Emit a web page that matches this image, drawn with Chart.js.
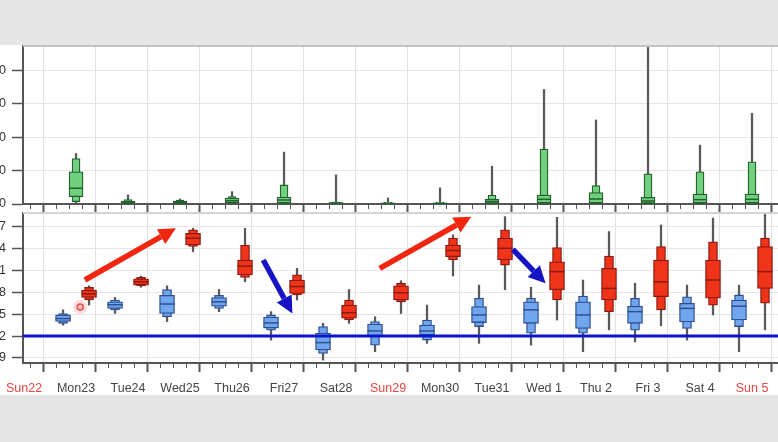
<!DOCTYPE html>
<html>
<head>
<meta charset="utf-8">
<script src="https://cdn.jsdelivr.net/npm/chart.js@4"></script>
<style>
  html, body { margin: 0; padding: 0; }
  body { width: 778px; height: 442px; background: #e6e6e6; position: relative; overflow: hidden; }
  #panel { position: absolute; left: 0; top: 45px; width: 778px; height: 350px; background: #fff; }
  canvas { position: absolute; left: -37px; }
  #upper { top: 45px; }
  #lower { top: 212px; }
</style>
</head>
<body>
<div id="panel"></div>
<canvas id="upper" width="815" height="168"></canvas>
<canvas id="lower" width="815" height="188"></canvas>
<script>
// day labels, index 0 = Sun22
const days = ["Sun22", "Mon23", "Tue24", "Wed25", "Thu26", "Fri27", "Sat28",
  "Sun29", "Mon30", "Tue31", "Wed 1", "Thu 2", "Fri 3", "Sat 4", "Sun 5"];
const sundays = [0, 7, 14];
const boxDays = [1, 2, 3, 4, 5, 6, 7, 8, 9, 10, 11, 12, 13, 14];

// lower panel, morning (blue) boxes
const blueMax = [75.6, 77.3, 78.9, 78.4, 75.35, 73.75, 74.65, 76.25, 79.0, 78.7, 79.7, 79.25, 79.0, 79.0];
const blueP90 = [75.1, 76.95, 78.4, 77.6, 74.9, 73.3, 74.0, 74.2, 77.2, 77.2, 77.5, 77.2, 77.4, 77.65];
const blueQ3 = [74.9, 76.7, 77.6, 77.3, 74.6, 72.4, 73.65, 73.5, 76.05, 76.7, 76.7, 76.1, 76.5, 76.95];
const blueMed = [74.4, 76.3, 76.4, 76.7, 73.8, 71.1, 72.7, 72.7, 74.9, 75.6, 74.9, 75.35, 75.8, 76.1];
const blueQ1 = [74.0, 75.8, 75.1, 76.1, 73.1, 70.1, 71.9, 72.15, 73.85, 73.75, 73.05, 73.75, 73.95, 74.2];
const blueP10 = [73.75, 75.6, 74.65, 75.8, 72.8, 69.6, 70.75, 71.45, 73.3, 72.4, 72.4, 72.8, 73.05, 73.3];
const blueMin = [73.5, 75.1, 74.0, 75.35, 71.45, 68.7, 69.85, 71.0, 71.0, 70.75, 69.85, 71.2, 71.45, 69.85];

// lower panel, evening (red) boxes
const redMax = [78.9, 80.25, 86.8, 86.8, 81.3, 78.4, 79.6, 85.9, 88.4, 88.3, 86.35, 87.25, 88.2, 88.85];
const redP90 = [78.7, 80.05, 86.6, 84.5, 80.4, 76.95, 79.25, 85.45, 86.6, 84.15, 83.0, 84.3, 84.95, 85.45];
const redQ3 = [78.3, 79.85, 86.1, 82.45, 79.7, 76.25, 78.9, 84.5, 85.45, 82.2, 81.3, 82.45, 82.45, 84.3];
const redMed = [77.8, 79.45, 85.45, 81.6, 78.8, 75.2, 77.95, 83.75, 84.05, 80.85, 78.55, 79.45, 79.7, 80.85];
const redQ1 = [77.3, 79.0, 84.5, 80.4, 77.85, 74.45, 76.95, 82.9, 82.45, 78.35, 76.95, 77.4, 77.2, 78.55];
const redP10 = [76.95, 78.9, 84.3, 80.05, 77.65, 74.2, 76.7, 82.45, 81.75, 76.95, 75.35, 75.6, 76.25, 76.5];
const redMin = [76.25, 78.7, 83.6, 79.45, 76.95, 73.75, 75.1, 80.25, 78.35, 74.2, 72.85, 73.4, 74.9, 72.85];

// upper panel (green) boxes
const greenMax = [15.1, 2.7, 1.5, 3.7, 15.5, 8.7, 1.8, 4.8, 11.3, 34.2, 25.1, 47, 17.6, 27.1];
const greenP90 = [13.6, 1.3, 1.2, 2.2, 5.7, 0.6, 0.5, 0.5, 2.7, 16.4, 5.5, 9.0, 9.6, 12.6];
const greenQ3 = [9.6, 0.9, 0.9, 1.8, 2.1, 0.4, 0.3, 0.3, 1.5, 2.7, 3.4, 2.0, 3.0, 3.0];
const greenMed = [4.7, 0.5, 0.5, 1.0, 1.2, 0.2, 0.15, 0.15, 0.8, 1.4, 1.5, 0.9, 1.3, 1.4];
const greenQ1 = [2.2, 0.15, 0.15, 0.4, 0.3, 0.05, 0.05, 0.05, 0.2, 0.3, 0.3, 0.2, 0.3, 0.3];
const greenP10 = [0.7, 0.05, 0.05, 0.2, 0.1, 0, 0, 0, 0.05, 0.1, 0.1, 0.05, 0.1, 0.1];
const greenMin = [0.2, 0, 0, 0, 0, 0, 0, 0, 0, 0, 0, 0, 0, 0];

const lowerTicks = [69, 72, 75, 78, 81, 84, 87];
const upperTicks = [0, 10, 20, 30, 40];
const targetValue = 72;
const cursorMark = { x: 1.58, y: 76.0 };

// annotation arrows, in data units of the lower panel
const arrows = [
  { from: [1.67, 79.7], to: [3.42, 86.8], color: "#f2250f" },
  { from: [7.34, 81.3], to: [9.10, 88.4], color: "#f2250f" },
  { from: [5.10, 82.45], to: [5.66, 75.1], color: "#1414c4" },
  { from: [9.90, 83.9], to: [10.53, 79.25], color: "#1414c4" },
];

const X_MIN = 0.48, X_MAX = 15;
const font = { family: "'Liberation Sans', Arial, sans-serif", size: 12.5 };

function boxSets(offset, s, style) {
  const xs = boxDays.map(d => d + offset);
  const pair = (lo, hi) => xs.map((x, i) => ({ x, y: [lo[i], hi[i]] }));
  return [
    { type: "bar", data: pair(s.min, s.max), backgroundColor: "#5a5a5a", borderWidth: 0,
      barThickness: 1.6, maxBarThickness: 1.6, order: 5 },
    { type: "bar", data: pair(s.p10, s.p90), backgroundColor: style.fill, borderColor: style.line,
      borderWidth: 1.3, borderSkipped: false, barThickness: style.narrow, maxBarThickness: style.narrow, order: 4 },
    { type: "bar", data: pair(s.q1, s.q3), backgroundColor: style.fill, borderColor: style.line,
      borderWidth: 1.3, borderSkipped: false, barThickness: style.wide, maxBarThickness: style.wide, order: 3 },
    { type: "scatter", data: xs.map((x, i) => ({ x, y: s.med[i] })), pointStyle: "line",
      pointRadius: style.wide / 2, pointBorderColor: style.line, pointBorderWidth: 1.5, order: 2 },
  ];
}

const isMajor = c => c.tick && Number.isInteger(c.tick.value);
const quarterTicks = [];
days.forEach((d, i) => [0, 0.25, 0.5, 0.75].forEach(q => { if (i + q >= X_MIN) quarterTicks.push(i + q); }));
quarterTicks.push(X_MAX);

function xAxis(showLabels, height) {
  return {
    type: "linear", min: X_MIN, max: X_MAX, offset: false,
    afterBuildTicks: s => { s.ticks = quarterTicks.map(v => ({ value: v })); },
    afterFit: s => { s.height = height; s.paddingLeft = 0; s.paddingRight = 0; },
    grid: {
      color: c => isMajor(c) ? "#e2e2e2" : "rgba(0,0,0,0)",
      tickColor: "#555",
      tickLength: 9,
      tickWidth: c => isMajor(c) ? 2 : 1,
      tickBorderDash: c => isMajor(c) ? [] : [4, 30],
    },
    border: { color: "#555", width: 2 },
    ticks: {
      display: showLabels, autoSkip: false, maxRotation: 0, padding: 9, font,
      callback: v => (v % 1 === 0.5 ? days[Math.floor(v)] : ""),
      color: c => (c.tick && sundays.includes(Math.floor(c.tick.value))) ? "#e8463f" : "#444",
    },
  };
}

function yAxis(min, max, tickValues) {
  return {
    type: "linear", min, max,
    afterBuildTicks: s => { s.ticks = tickValues.map(v => ({ value: v })); },
    afterFit: s => { s.width = 60; s.paddingTop = 0; s.paddingBottom = 0; },
    grid: { color: "#e6e6e6", tickLength: 11, tickColor: "#555", tickWidth: 1.5 },
    border: { color: "#555", width: 2 },
    ticks: { padding: 6, color: "#333", font },
  };
}

const frameLine = color => ({
  id: "frameLine",
  afterDraw(chart) {
    const { ctx, chartArea } = chart;
    ctx.save();
    ctx.strokeStyle = color;
    ctx.lineWidth = 2;
    ctx.beginPath();
    ctx.moveTo(chartArea.left, chartArea.top);
    ctx.lineTo(chartArea.right, chartArea.top);
    ctx.stroke();
    ctx.restore();
  },
});

const arrowPlugin = {
  id: "arrows",
  afterDatasetsDraw(chart) {
    const { ctx, scales: { x, y } } = chart;
    arrows.forEach(a => {
      const x1 = x.getPixelForValue(a.from[0]), y1 = y.getPixelForValue(a.from[1]);
      const x2 = x.getPixelForValue(a.to[0]), y2 = y.getPixelForValue(a.to[1]);
      const ang = Math.atan2(y2 - y1, x2 - x1);
      const head = 17, half = 8.5;
      const bx = x2 - head * Math.cos(ang), by = y2 - head * Math.sin(ang);
      ctx.save();
      ctx.strokeStyle = a.color;
      ctx.fillStyle = a.color;
      ctx.lineWidth = 5.5;
      ctx.beginPath();
      ctx.moveTo(x1, y1);
      ctx.lineTo(bx, by);
      ctx.stroke();
      ctx.beginPath();
      ctx.moveTo(x2, y2);
      ctx.lineTo(bx + half * Math.sin(ang), by - half * Math.cos(ang));
      ctx.lineTo(bx - half * Math.sin(ang), by + half * Math.cos(ang));
      ctx.closePath();
      ctx.fill();
      ctx.restore();
    });
  },
};

const common = {
  responsive: false,
  animation: false,
  events: [],
  layout: { autoPadding: false, padding: { top: 1, left: 0, right: 0, bottom: 0 } },
  plugins: { legend: { display: false }, tooltip: { enabled: false } },
  datasets: { bar: { grouped: false } },
};

new Chart(document.getElementById("upper"), {
  type: "scatter",
  data: {
    datasets: boxSets(0.5,
      { min: greenMin, p10: greenP10, q1: greenQ1, med: greenMed, q3: greenQ3, p90: greenP90, max: greenMax },
      { fill: "#71d07e", line: "#24602e", wide: 14, narrow: 8 }),
  },
  options: {
    ...common,
    scales: { x: xAxis(false, 9), y: yAxis(0, 47.2, upperTicks) },
  },
  plugins: [frameLine("#c2c2c2")],
});

new Chart(document.getElementById("lower"), {
  type: "scatter",
  data: {
    datasets: [
      ...boxSets(0.25,
        { min: blueMin, p10: blueP10, q1: blueQ1, med: blueMed, q3: blueQ3, p90: blueP90, max: blueMax },
        { fill: "#70a6ee", line: "#2f4f8f", wide: 15, narrow: 9 }),
      ...boxSets(0.75,
        { min: redMin, p10: redP10, q1: redQ1, med: redMed, q3: redQ3, p90: redP90, max: redMax },
        { fill: "#f0341a", line: "#8c1a10", wide: 15, narrow: 9 }),
      { type: "line", data: [{ x: X_MIN, y: targetValue }, { x: X_MAX, y: targetValue }],
        borderColor: "#0a14cc", borderWidth: 3, pointRadius: 0, order: 1 },
      { type: "scatter", data: [cursorMark], pointRadius: 7, pointBackgroundColor: "rgba(255,120,120,0.25)",
        pointBorderWidth: 0, order: 0 },
      { type: "scatter", data: [cursorMark], pointRadius: 3, pointBackgroundColor: "rgba(255,220,220,0.9)",
        pointBorderColor: "#e23c3c", pointBorderWidth: 1.5, order: 0 },
    ],
  },
  options: {
    ...common,
    scales: { x: xAxis(true, 37), y: yAxis(68.3, 88.9, lowerTicks) },
  },
  plugins: [frameLine("#d4d4d4"), arrowPlugin],
});
</script>
</body>
</html>
